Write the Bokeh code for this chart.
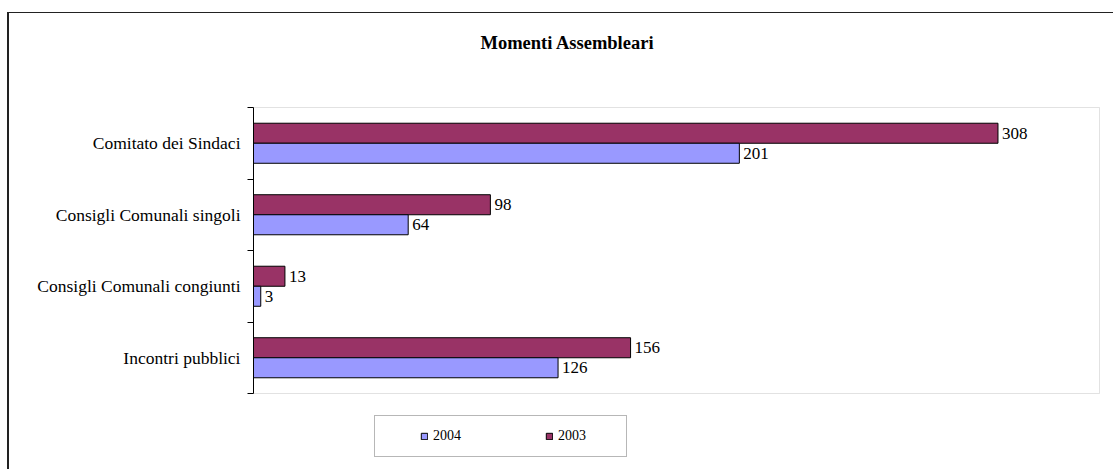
from bokeh.plotting import figure
from bokeh.models import (ColumnDataSource, FixedTicker, LabelSet, Label, Legend,
                          LegendItem, Range1d, BoxAnnotation)
from bokeh.embed import file_html
from bokeh.resources import INLINE

# ---- data ----
categories = ["Comitato dei Sindaci", "Consigli Comunali singoli",
              "Consigli Comunali congiunti", "Incontri pubblici"]
values_2004 = [201, 64, 3, 126]
values_2003 = [308, 98, 13, 156]
series_names = ["2004", "2003"]
title_text = "Momenti Assembleari"
x_max = 350

# ---- styling / layout (pixels) ----
C04 = "#9999FF"
C03 = "#993366"
FONT = "Liberation Serif"
BAR_H = 0.28
W, H = 1106, 457            # canvas (after 7px/12px css margin + border)
LEFT = 244                   # space for category labels
AREA_W, AREA_H = 846, 286    # visible plot-area box
AREA_TOP = 94                # from canvas top
n = len(categories)

px_x = AREA_W / x_max
px_y = AREA_H / n
frame_w = W - LEFT
x_end = frame_w / px_x
y_top = n + AREA_TOP / px_y
y_bot = -(H - AREA_TOP - AREA_H) / px_y

ypos = [n - i - 0.5 for i in range(n)]

src = ColumnDataSource(dict(
    cat=categories, y=ypos,
    v04=values_2004, v03=values_2003,
    t04=[str(v) for v in values_2004], t03=[str(v) for v in values_2003],
    y04=[y - BAR_H / 2 for y in ypos], y03=[y + BAR_H / 2 for y in ypos],
))

p = figure(width=W, height=H, output_backend="svg", toolbar_location=None,
           x_range=Range1d(0, x_end), y_range=Range1d(y_bot, y_top),
           x_axis_location=None, title=None,
           min_border_left=LEFT, min_border_right=0,
           min_border_top=0, min_border_bottom=0)
p.styles = {"margin-left": "7px", "margin-top": "12px",
            "border-left": "2px solid #222222", "border-top": "1px solid #222222"}
p.xgrid.visible = False
p.ygrid.visible = False
p.outline_line_color = None

# plot-area frame (gray)
p.add_layout(BoxAnnotation(left=0, right=x_max, bottom=0, top=n,
                           fill_alpha=0, line_color="#a0a0a0", line_width=1,
                           level="underlay"))

ax = p.yaxis[0]
ax.bounds = (0, n)
ax.ticker = FixedTicker(ticks=ypos, minor_ticks=list(range(n + 1)))
ax.major_label_overrides = {y: c for y, c in zip(ypos, categories)}
ax.axis_line_color = "black"
ax.major_tick_out = 0
ax.major_tick_in = 0
ax.minor_tick_out = 6
ax.minor_tick_in = 0
ax.minor_tick_line_color = "black"
ax.major_label_standoff = 7
ax.major_label_text_font = FONT
ax.major_label_text_font_size = "17.5px"
ax.major_label_text_color = "black"

r03 = p.hbar(y="y03", left=0, right="v03", height=BAR_H, source=src,
             fill_color=C03, line_color="black", line_width=1)
r04 = p.hbar(y="y04", left=0, right="v04", height=BAR_H, source=src,
             fill_color=C04, line_color="black", line_width=1)

for yf, xf, tf in (("y03", "v03", "t03"), ("y04", "v04", "t04")):
    p.add_layout(LabelSet(x=xf, y=yf, text=tf, source=src, x_offset=4,
                          text_baseline="middle", text_font=FONT,
                          text_font_size="17px", text_color="black"))

p.add_layout(Label(x=314, y=H - 29, x_units="screen", y_units="screen",
                   text=title_text, text_align="center", text_baseline="middle",
                   text_font=FONT, text_font_size="18.5px", text_font_style="bold",
                   text_color="black"))

legend = Legend(items=[LegendItem(label=series_names[0], renderers=[r04]),
                       LegendItem(label=series_names[1], renderers=[r03])],
                orientation="horizontal", location=(121, 13),
                title="\u00a0", title_location="left", title_standoff=34,
                title_text_font_size="1px",
                glyph_width=8, glyph_height=8, label_standoff=5,
                label_width=58, label_height=20, spacing=54, padding=10, margin=0,
                border_line_color="#707070", border_line_width=1,
                background_fill_color="white",
                label_text_font=FONT, label_text_font_size="14px",
                label_text_color="black")
p.add_layout(legend)

open("out.html", "w").write(file_html(p, INLINE))
